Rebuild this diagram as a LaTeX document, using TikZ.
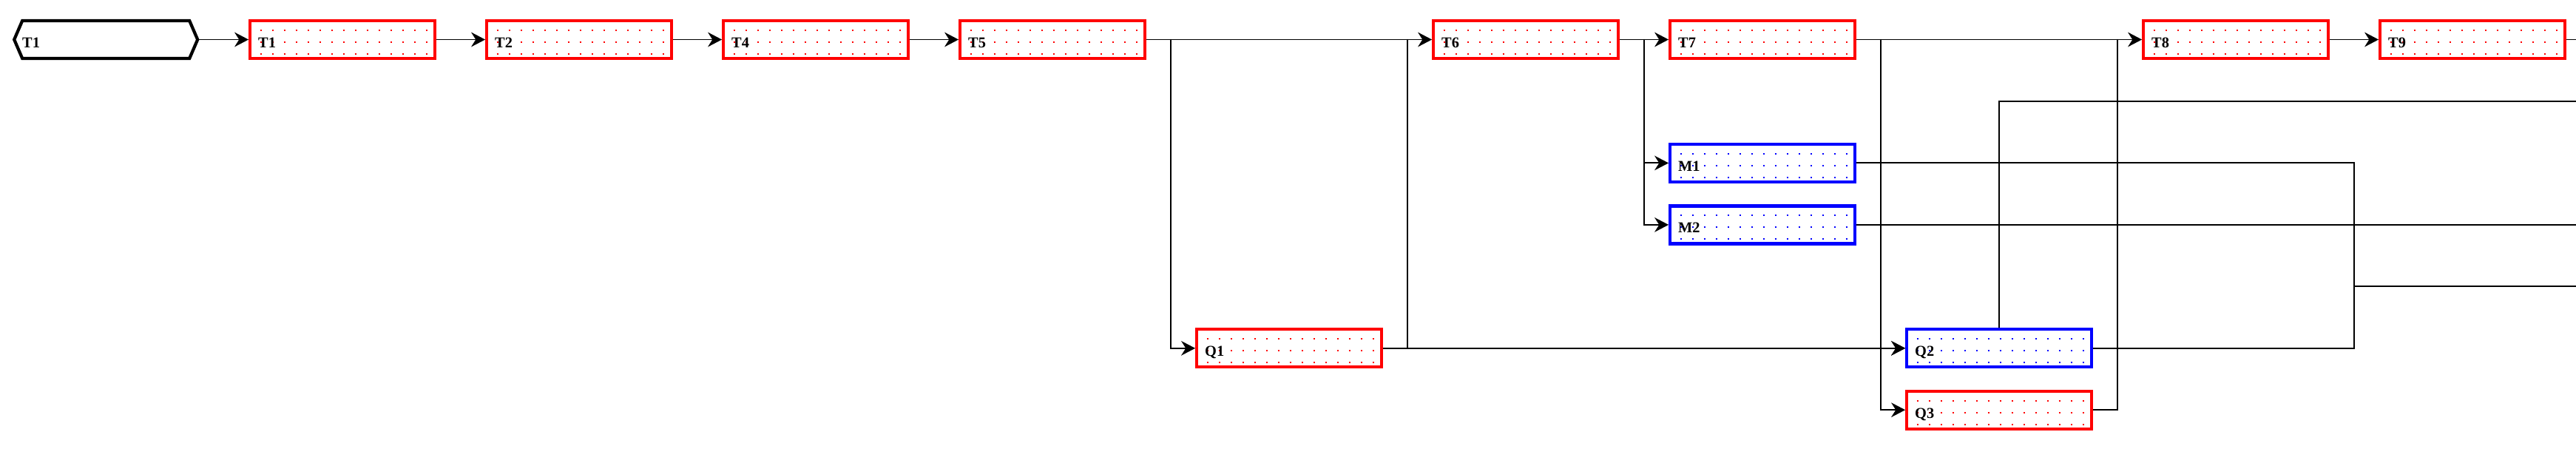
\documentclass[tikz,border=0pt]{standalone}
\usepackage{fontspec}
\setmainfont{Liberation Serif}
\usetikzlibrary{arrows.meta}

\tikzset{
  task/.style={draw=#1, line width=1.2pt, rectangle, minimum width=2.5cm, minimum height=0.51cm,
    inner xsep=0.11cm, inner ysep=0pt, text width=2.28cm, align=left,
    text height=0.216cm, text depth=0cm, font=\fontsize{5.8}{7}\selectfont\bfseries,
    path picture={\foreach \dy in {0.125cm,-0.035cm,-0.195cm}
      \draw[#1, line width=0.57pt, dash pattern=on 0.57pt off 3.98pt]
        ([xshift=0.135cm,yshift=\dy]path picture bounding box.west) -- ++(2.26,0);}},
  start/.style={rectangle, outer sep=0pt, minimum width=2.48cm, minimum height=0.51cm,
    inner xsep=0.11cm, inner ysep=0pt, text width=2.26cm, align=left,
    text height=0.216cm, text depth=0cm, font=\fontsize{5.8}{7}\selectfont\bfseries},
  link/.style={line width=0.55pt},
}

\begin{document}
\begin{tikzpicture}[>={Stealth[length=5.4pt,width=5.6pt]}]
  \useasboundingbox (0,0) rectangle (34.83,-6.29);
  % junction columns and the right edge
  \coordinate (j4) at (15.832,0);
  \coordinate (j5) at (19.032,0);
  \coordinate (j6) at (22.232,0);
  \coordinate (j7) at (25.432,0);
  \coordinate (j8) at (28.632,0);
  \coordinate (j9) at (31.832,0);
  \coordinate (e) at (34.83,0);
  \coordinate (o1) at (34.83,-1.370);
  \coordinate (o4) at (34.83,-3.873);
  % start
  \node[start] (t0) at (1.432,-0.535) {T1};
  \draw[line width=1.2pt] ([xshift=0.11cm]t0.north west) -- ([xshift=-0.11cm]t0.north east) -- (t0.east)
    -- ([xshift=-0.11cm]t0.south east) -- ([xshift=0.11cm]t0.south west) -- (t0.west) -- cycle;
  % main line
  \node[task=red] (t1) at (4.632,-0.535) {T1};
  \node[task=red] (t2) at (7.832,-0.535) {T2};
  \node[task=red] (t4) at (11.032,-0.535) {T4};
  \node[task=red] (t5) at (14.232,-0.535) {T5};
  \node[task=red] (t6) at (20.632,-0.535) {T6};
  \node[task=red] (t7) at (23.832,-0.535) {T7};
  \node[task=red] (t8) at (30.232,-0.535) {T8};
  \node[task=red] (t9) at (33.432,-0.535) {T9};
  % side boxes
  \node[task=blue] (m1) at (23.832,-2.204) {M1};
  \node[task=blue] (m2) at (23.832,-3.039) {M2};
  \node[task=red] (q1) at (17.432,-4.708) {Q1};
  \node[task=blue] (q2) at (27.032,-4.708) {Q2};
  \node[task=red] (q3) at (27.032,-5.542) {Q3};
  % connectors
  \draw[link,->] (t0) -- (t1);
  \draw[link,->] (t1) -- (t2);
  \draw[link,->] (t2) -- (t4);
  \draw[link,->] (t4) -- (t5);
  \draw[link,->] (t5) -- (t6);
  \draw[link,->] (j4 |- t5) |- (q1);
  \draw[link] (q1.east) -| (j5 |- t6);
  \draw[link,->] (q1) -- (q2);
  \draw[link,->] (t6) -- (t7);
  \draw[link,->] (j6 |- t6) |- (m1);
  \draw[link,->] (j6 |- t6) |- (m2);
  \draw[link,->] (t7) -- (t8);
  \draw[link,->] (j7 |- t7) |- (q2);
  \draw[link,->] (j7 |- t7) |- (q3);
  \draw[link] (q3.east) -| (j8 |- t8);
  \draw[link,->] (t8) -- (t9);
  \draw[link] (t9) -- (t9 -| e);
  \draw[link] (m1.east) -| (j9 |- q2) -- (q2.east);
  \draw[link] (j9 |- o4) -- (o4);
  \draw[link] (q2.north) |- (o1);
  \draw[link] (m2) -- (m2 -| e);
\end{tikzpicture}
\end{document}
